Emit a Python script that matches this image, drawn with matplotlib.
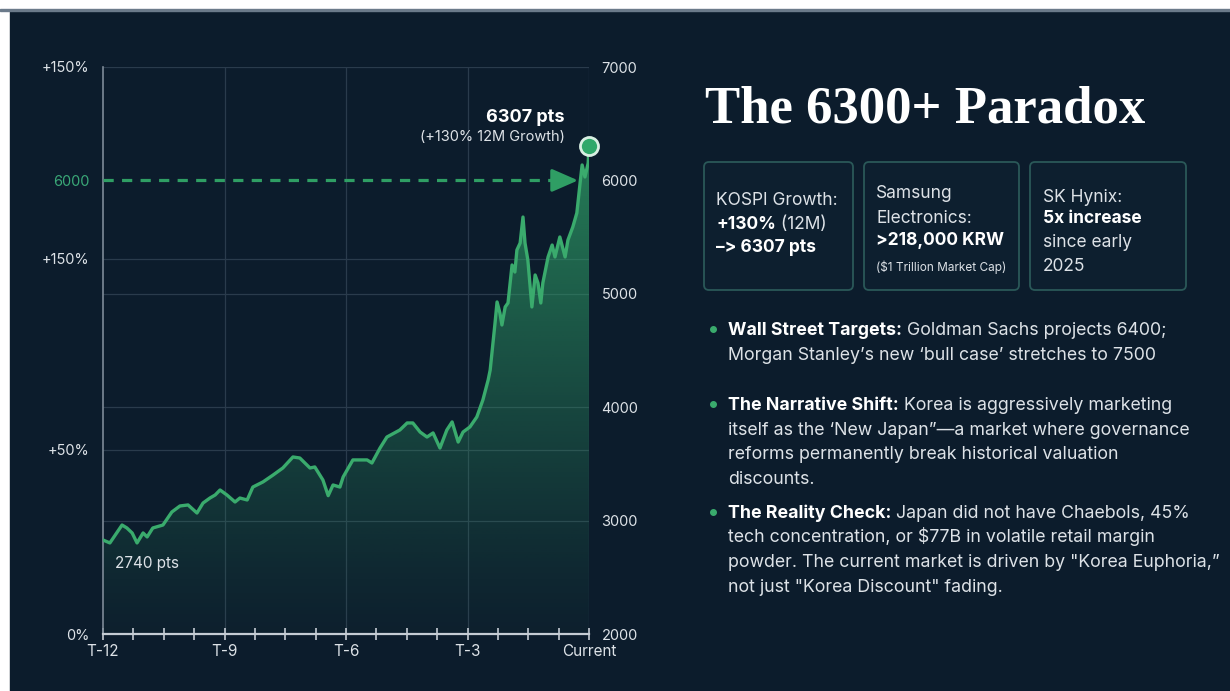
import numpy as np
import matplotlib.pyplot as plt
from matplotlib.colors import to_rgb
from matplotlib.patches import Rectangle, FancyBboxPatch

# KOSPI path over the last 12 months (month offset, index level)
months = [-12.00, -11.83, -11.53, -11.41, -11.28, -11.16, -11.01, -10.91, -10.77, -10.52,
          -10.30, -10.10, -9.90, -9.68, -9.53, -9.36, -9.23, -9.11, -8.94, -8.74,
          -8.62, -8.44, -8.30, -8.05, -7.80, -7.56, -7.31, -7.14, -6.89, -6.77,
          -6.57, -6.44, -6.32, -6.15, -6.07, -5.83, -5.48, -5.36, -5.16, -4.99,
          -4.67, -4.49, -4.35, -4.17, -4.00, -3.85, -3.68, -3.51, -3.38, -3.23,
          -3.11, -2.94, -2.77, -2.62, -2.49, -2.44, -2.32, -2.27, -2.20, -2.15,
          -2.07, -2.00, -1.90, -1.83, -1.78, -1.70, -1.63, -1.58, -1.51, -1.41,
          -1.33, -1.26, -1.19, -1.14, -1.01, -0.91, -0.84, -0.72, -0.59, -0.52,
          -0.40, -0.30, -0.22, -0.17, -0.10, -0.02, 0.00]
kospi = [2829, 2803, 2961, 2935, 2891, 2803, 2891, 2856, 2935, 2961,
         3076, 3129, 3138, 3067, 3155, 3199, 3226, 3270, 3226, 3164,
         3199, 3182, 3296, 3341, 3402, 3464, 3561, 3552, 3464, 3473,
         3358, 3220, 3314, 3296, 3385, 3535, 3535, 3508, 3640, 3737,
         3799, 3861, 3861, 3781, 3737, 3773, 3640, 3799, 3870, 3693,
         3781, 3826, 3914, 4064, 4240, 4328, 4743, 4928, 4831, 4725,
         4884, 4919, 5254, 5192, 5386, 5448, 5677, 5448, 5298, 4884,
         5166, 5095, 4919, 5095, 5325, 5430, 5325, 5501, 5325, 5474,
         5589, 5713, 5977, 6136, 6030, 6153, 6307]

x_ticks = [-12, -9, -6, -3, 0]
x_labels = ['T-12', 'T-9', 'T-6', 'T-3', 'Current']
right_ticks = [2000, 3000, 4000, 5000, 6000, 7000]
left_tick_pos = [2000, 3623, 5307, 6000, 7000]
left_tick_labels = ['0%', '+50%', '+150%', '6000', '+150%']
target_level = 6000
start_label = 2740
end_label = 6307

BG = '#0c1c2c'
GREEN = '#3aab6d'
DASH = '#2f9e64'
GRID = '#2a3b4c'
TXT = '#dde2e7'
FONT = 'Inter'

plt.rcParams['font.family'] = [FONT, 'DejaVu Sans']

fig = plt.figure(figsize=(12.3, 6.91), dpi=100, facecolor='white')

# background layer in pixel units (y down)
bg = fig.add_axes([0, 0, 1, 1], zorder=0)
bg.set_xlim(0, 1230)
bg.set_ylim(691, 0)
bg.axis('off')
bg.add_patch(Rectangle((10, 11), 1220, 680, color=BG))
bg.add_patch(Rectangle((0, 9), 1230, 2, color='#6b7a8a'))

# ---- chart ----
ax = fig.add_axes([103 / 1230, 57 / 691, 486 / 1230, 567 / 691], zorder=2)
ax.set_facecolor('none')
ax.set_xlim(-12, 0)
ax.set_ylim(2000, 7000)

for y in sorted(set(right_ticks + left_tick_pos) - {2000, 6000}):
    ax.axhline(y, color=GRID, lw=0.9, zorder=0)
for x in x_ticks[1:]:
    ax.axvline(x, color=GRID, lw=0.9, zorder=0)

# gradient area under the line
n = 256
rgba = np.zeros((n, 1, 4))
rgba[..., :3] = to_rgb('#2fa067')
rgba[:, 0, 3] = np.linspace(0.0, 1.0, n) ** 1.15 * 0.85 + 0.03
im = ax.imshow(rgba, extent=[-12, 0, 2000, 7000], origin='lower', aspect='auto', zorder=1)
area = ax.fill_between(months, kospi, 2000, facecolor='none', edgecolor='none')
im.set_clip_path(area.get_paths()[0], transform=ax.transData)

ax.plot(months, kospi, color=GREEN, lw=2.4, solid_joinstyle='round', zorder=3)

# dashed 6000 target arrow
ax.plot([-12, -0.9], [target_level, target_level], color=DASH, lw=2.3,
        linestyle=(0, (3.2, 2.6)), zorder=4)
ax.annotate('', xy=(-0.27, target_level), xytext=(-0.95, target_level),
            arrowprops=dict(arrowstyle='-|>,head_length=1.6,head_width=0.7',
                            color=DASH, lw=2.3, shrinkA=0, shrinkB=0), zorder=4)

ax.plot(months[-1], kospi[-1], 'o', ms=13, mfc='#2fa86a', mec='#d8efe2', mew=2,
        zorder=6, clip_on=False)

ax.annotate(f'{end_label} pts', xy=(months[-1], kospi[-1]), xytext=(-24, 24),
            textcoords='offset pixels', ha='right', va='baseline',
            fontsize=13, fontweight='bold', color='white')
ax.annotate('(+130% 12M Growth)', xy=(months[-1], kospi[-1]), xytext=(-24, 5),
            textcoords='offset pixels', ha='right', va='baseline',
            fontsize=10.5, color=TXT)
ax.annotate(f'{start_label} pts', xy=(months[0], kospi[0]), xytext=(12, -28),
            textcoords='offset pixels', ha='left', va='baseline',
            fontsize=11, color=TXT)

# axes styling
for s in ['top', 'right']:
    ax.spines[s].set_visible(False)
ax.spines['left'].set_color('#7d8a97')
ax.spines['left'].set_linewidth(1.2)
ax.spines['bottom'].set_color('#c5ccd4')
ax.spines['bottom'].set_linewidth(1.6)

ax.set_xticks(x_ticks)
ax.set_xticklabels(x_labels)
ax.set_xticks(np.arange(-12, 0.01, 0.75), minor=True)
ax.tick_params(axis='x', which='both', direction='inout', length=9, width=1.2,
               color='#c5ccd4', labelsize=11, labelcolor=TXT, pad=3)

ax.set_yticks(left_tick_pos)
ax.set_yticklabels(left_tick_labels)
ax.tick_params(axis='y', length=0, pad=10, labelsize=10.5, labelcolor=TXT)
ax.get_yticklabels()[left_tick_labels.index('6000')].set_color('#3aa877')

ax2 = ax.twinx()
ax2.set_ylim(2000, 7000)
ax2.set_yticks(right_ticks)
ax2.tick_params(axis='y', length=0, pad=9, labelsize=10.5, labelcolor=TXT)
for s in ax2.spines.values():
    s.set_visible(False)

# ---- right panel ----
bg.text(705, 122, 'The 6300+ Paradox', family='Liberation Serif', fontweight='bold',
        fontsize=38, color='white', va='baseline')

boxes = [(704, 149), (864, 155), (1030, 156)]
for bx, bw in boxes:
    bg.add_patch(FancyBboxPatch((bx, 162), bw, 128, boxstyle='round,pad=0,rounding_size=5',
                                facecolor='#0d1f2f', edgecolor='#2a5858', lw=1.3))


def rich(x, y, parts, size=12.5):
    prev = None
    for txt, weight, color in parts:
        if prev is None:
            prev = bg.text(x, y, txt, fontsize=size, fontweight=weight, color=color,
                           va='baseline', ha='left')
        else:
            prev = bg.annotate(txt, xy=(1, 0), xycoords=prev, fontsize=size,
                               fontweight=weight, color=color, va='bottom', ha='left')
    return prev


W = 'white'
rich(716, 205, [('KOSPI Growth:', 'normal', TXT)])
rich(716, 229, [('+130%', 'bold', W), (' (12M)', 'normal', TXT)])
rich(716, 252, [('–> 6307 pts', 'bold', W)])

rich(876, 198, [('Samsung', 'normal', TXT)])
rich(876, 223, [('Electronics:', 'normal', TXT)])
rich(876, 245, [('>218,000 KRW', 'bold', W)])
rich(876, 271, [('($1 Trillion Market Cap)', 'normal', TXT)], size=8.5)

rich(1043, 202, [('SK Hynix:', 'normal', TXT)])
rich(1043, 223, [('5x increase', 'bold', W)])
rich(1043, 247, [('since early', 'normal', TXT)])
rich(1043, 271, [('2025', 'normal', TXT)])

bullets = [
    (335, [[('Wall Street Targets:', 'bold', W), (' Goldman Sachs projects 6400;', 'normal', TXT)],
           [('Morgan Stanley’s new ‘bull case’ stretches to 7500', 'normal', TXT)]]),
    (410, [[('The Narrative Shift:', 'bold', W), (' Korea is aggressively marketing', 'normal', TXT)],
           [('itself as the ‘New Japan”—a market where governance', 'normal', TXT)],
           [('reforms permanently break historical valuation', 'normal', TXT)],
           [('discounts.', 'normal', TXT)]]),
    (518, [[('The Reality Check:', 'bold', W), (' Japan did not have Chaebols, 45%', 'normal', TXT)],
           [('tech concentration, or $77B in volatile retail margin', 'normal', TXT)],
           [('powder. The current market is driven by "Korea Euphoria,”', 'normal', TXT)],
           [('not just "Korea Discount" fading.', 'normal', TXT)]]),
]
for y0, lines in bullets:
    bg.plot(713, y0 - 6, 'o', ms=4, color=GREEN)
    for i, parts in enumerate(lines):
        rich(728, y0 + i * 24.5, parts, size=12.8)

plt.savefig('out.png', dpi=100, facecolor=fig.get_facecolor())
